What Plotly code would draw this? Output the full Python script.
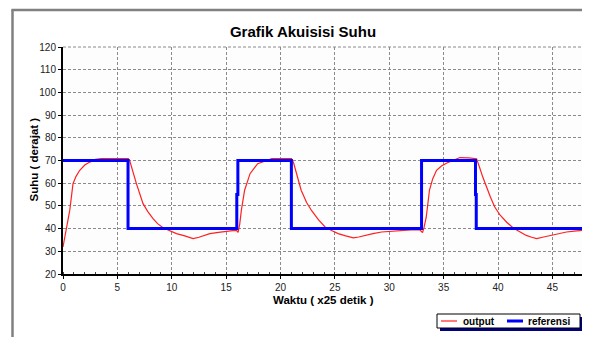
import plotly.graph_objects as go

# ---- data ----
output_t = [0, 0.3, 0.62, 0.92, 1.2, 1.54, 2.0, 2.46, 3.0, 3.5, 4.5, 5.5, 6.0, 6.13, 6.4, 6.75,
            7.36, 7.8, 8.28, 8.7, 9.2, 9.8, 10.43, 11.2, 11.96, 12.5, 13.5, 14.3, 15.03, 15.6,
            15.95, 16.1, 16.25, 16.4, 16.7, 17.2, 17.9, 18.4, 18.86, 19.2, 20.0, 21.0, 21.2,
            21.5, 21.9, 22.4, 22.85, 23.5, 24.1, 24.7, 25.3, 26.0, 26.7, 27.2, 27.75, 28.5,
            29.3, 30.3, 31.4, 32.0, 32.8, 33.06, 33.2, 33.4, 33.7, 34.0, 34.35, 34.8, 35.3,
            35.9, 36.5, 37.3, 38.03, 38.3, 38.6, 39.3, 39.7, 40.2, 40.8, 41.4, 42.0, 42.6,
            43.1, 43.55, 44.2, 44.8, 45.5, 46.3, 47.0, 47.8, 48.0]
output_v = [31.9, 40, 48, 59.8, 63, 65.7, 68, 69.3, 70.5, 70.8, 70.8, 70.8, 70.8, 70, 65, 59.8,
            51, 47.5, 44.4, 42.2, 40.4, 39, 37.8, 36.8, 35.6, 36.2, 37.8, 38.3, 38.9, 39.1,
            39.2, 38.3, 42, 48, 56.9, 64.2, 68.6, 69.6, 70.2, 70.8, 70.8, 70.8, 69,
            64.2, 56.9, 51.5, 48, 43.8, 40.7, 39.2, 37.8, 36.8, 35.9, 36.3, 37, 37.8,
            38.5, 38.9, 39.3, 39.4, 39.5, 38.2, 40.5, 45, 57, 62, 65.7, 67.6, 68.9,
            70.2, 71.3, 71.2, 70.8, 67, 62.7, 53.9, 49.5, 45.9, 42.8, 40.3, 38.6, 37,
            36.2, 35.6, 36.3, 37, 37.8, 38.5, 38.9, 39.3, 39.4]

ref_t = [0, 5.98, 5.98, 15.98, 15.98, 16.08, 16.08, 21.0, 21.0, 32.97, 32.97, 37.93, 37.93, 38.0, 38.0, 48]
ref_v = [70, 70, 40, 40, 55, 55, 70, 70, 40, 40, 70, 70, 55, 55, 40, 40]

x_ticks = [0, 5, 10, 15, 20, 25, 30, 35, 40, 45]
y_ticks = [20, 30, 40, 50, 60, 70, 80, 90, 100, 110, 120]

series_names = ["output", "referensi"]
series_colors = ["#ff2020", "#0000ff"]
series_widths = [1.2, 3]

FONT = "Liberation Sans, Arial, sans-serif"

fig = go.Figure()
fig.add_trace(go.Scatter(x=output_t, y=output_v, mode="lines", name=series_names[0],
                         line=dict(color=series_colors[0], width=series_widths[0])))
fig.add_trace(go.Scatter(x=ref_t, y=ref_v, mode="lines", name=series_names[1],
                         line=dict(color=series_colors[1], width=series_widths[1])))

# The page body has an 8px margin: size the figure so it fits the 590x337 window.
OFF = 8
W, H = 590 - OFF, 337 - OFF
L, R, T, B = 55, 5, 39, 63
pw, ph = W - L - R, H - T - B

def px2paper_x(px):  # px in window coordinates
    return (px - OFF - L) / pw

def px2paper_y(py):
    return (H - B - (py - OFF)) / ph

grid = dict(showgrid=True, gridcolor="#8a8a8a", gridwidth=1, griddash="3px,2px")

fig.update_layout(
    width=W, height=H,
    margin=dict(l=L, r=R, t=T, b=B, autoexpand=False),
    paper_bgcolor="white",
    plot_bgcolor="#fdfdfd",
    title=dict(text="<b>Grafik Akuisisi Suhu</b>", xref="paper", x=px2paper_x(303),
               xanchor="center", yref="container", y=1 - (32 - OFF) / H, yanchor="middle",
               font=dict(family=FONT, size=15, color="black")),
    xaxis=dict(range=[0, 48], tickvals=x_ticks, ticks="outside", ticklen=3,
               tickcolor="black", showline=True, linecolor="black", linewidth=2,
               automargin=False,
               tickfont=dict(family=FONT, size=10, color="#222"),
               minor=dict(dtick=1, ticks="inside", ticklen=2, tickcolor="#444", showgrid=False),
               zeroline=False, **grid),
    yaxis=dict(range=[20, 120], tickvals=y_ticks, ticks="outside", ticklen=3,
               tickcolor="black", showline=True, linecolor="black", linewidth=2,
               automargin=False,
               tickfont=dict(family=FONT, size=10, color="#222"),
               zeroline=False, **grid),
    showlegend=False,
)

shapes = []
# right plot border
shapes.append(dict(type="line", xref="paper", yref="paper", x0=1, x1=1, y0=0, y1=1,
                   line=dict(color="#333", width=1.5)))
# top dashed grid line at 120
shapes.append(dict(type="line", xref="paper", yref="paper", x0=0, x1=1, y0=1, y1=1,
                   line=dict(color="#8a8a8a", width=1, dash="3px,2px")))
# outer frame (gray)
shapes.append(dict(type="line", xref="paper", yref="paper",
                   x0=px2paper_x(12.5), x1=px2paper_x(12.5), y0=px2paper_y(9.5), y1=px2paper_y(340),
                   line=dict(color="#808080", width=2.5)))
shapes.append(dict(type="line", xref="paper", yref="paper",
                   x0=px2paper_x(11.5), x1=px2paper_x(592), y0=px2paper_y(10), y1=px2paper_y(10),
                   line=dict(color="#808080", width=2.5)))
# legend box: shadow, box, samples
shapes.append(dict(type="rect", xref="paper", yref="paper",
                   x0=px2paper_x(440), x1=px2paper_x(583), y0=px2paper_y(317), y1=px2paper_y(331),
                   fillcolor="#000080", line=dict(width=0)))
shapes.append(dict(type="rect", xref="paper", yref="paper",
                   x0=px2paper_x(437), x1=px2paper_x(580), y0=px2paper_y(314), y1=px2paper_y(328),
                   fillcolor="white", line=dict(color="black", width=1)))

annotations = [
    dict(text="<b>Waktu ( x25 detik )</b>", xref="paper", yref="paper",
         x=px2paper_x(323.5), y=px2paper_y(299.5), xanchor="center", yanchor="middle",
         borderpad=0, showarrow=False, font=dict(family=FONT, size=11.5, color="black")),
    dict(text="<b>Suhu ( derajat )</b>", xref="paper", yref="paper", textangle=-90,
         x=px2paper_x(33.5), y=px2paper_y(160), xanchor="center", yanchor="middle",
         showarrow=False, font=dict(family=FONT, size=11.5, color="black")),
]
legend_items = [(441, 457, 461), (507, 523, 526)]
for (lx0, lx1, tx), name, col, wd in zip(legend_items, series_names, series_colors, series_widths):
    shapes.append(dict(type="line", xref="paper", yref="paper",
                       x0=px2paper_x(lx0), x1=px2paper_x(lx1),
                       y0=px2paper_y(321), y1=px2paper_y(321),
                       line=dict(color=col, width=wd)))
    annotations.append(dict(text="<b>" + name + "</b>", xref="paper", yref="paper",
                            x=px2paper_x(tx), y=px2paper_y(321), xanchor="left",
                            yanchor="middle", showarrow=False,
                            font=dict(family=FONT, size=10, color="black")))
fig.update_layout(shapes=shapes, annotations=annotations)

fig.write_html("out.html")
